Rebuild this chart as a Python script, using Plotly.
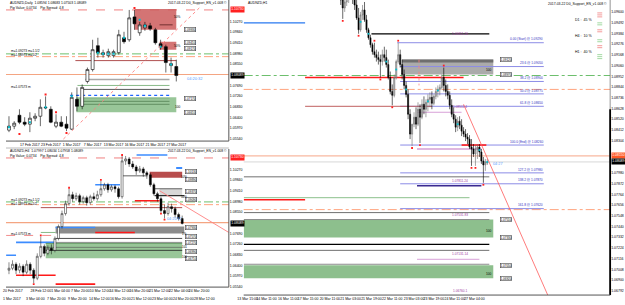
import plotly.graph_objects as go

W, H = 625, 305
FONT = "Liberation Sans"

# ====================== DATA ======================
# --- Daily chart (top-left) ---
d_open  = [1.0589,1.0605,1.0649,1.0621,1.0613,1.0637,1.0645,1.0681,1.0673,1.0605,1.0621,1.0613,1.0593,1.0713,1.0685,1.0785,1.0833,1.0929,1.0893,1.0889,1.0889,1.0901,1.0961,1.0953,1.1045,1.0981,1.1001,1.1009,1.0993,1.0937,1.0925,1.0849,1.0845]
d_high  = [1.0645,1.0625,1.0673,1.0641,1.0661,1.0657,1.0713,1.0725,1.0685,1.0653,1.0645,1.0645,1.0741,1.0761,1.0773,1.0841,1.0953,1.0961,1.0913,1.0917,1.0913,1.0993,1.0985,1.1073,1.1073,1.1025,1.1025,1.1021,1.1001,1.0953,1.0933,1.0881,1.0873]
d_low   = [1.0581,1.0593,1.0613,1.0605,1.0581,1.0625,1.0605,1.0673,1.0617,1.0597,1.0601,1.0585,1.0589,1.0665,1.0673,1.0777,1.0825,1.0881,1.0881,1.0881,1.0881,1.0893,1.0937,1.0945,1.0993,1.0969,1.0989,1.0989,1.0933,1.0913,1.0821,1.0821,1.0785]
d_close = [1.0605,1.0617,1.0621,1.0613,1.0637,1.0645,1.0681,1.0679,1.0621,1.0621,1.0605,1.0597,1.0721,1.0685,1.0761,1.0833,1.0913,1.0901,1.0901,1.0905,1.0905,1.0973,1.0945,1.1041,1.1017,1.1013,1.1013,1.0997,1.0941,1.0925,1.0861,1.0857,1.0809]
d_tick_idx = [0, 4, 8, 12, 16, 20, 24, 28, 32]
d_tick_txt = ["13 Feb 2017", "17 Feb 2017", "23 Feb 2017", "1 Mar 2017", "7 Mar 2017",
              "13 Mar 2017", "16 Mar 2017", "21 Mar 2017", "27 Mar 2017"]
d_cyan_idx = [0, 4, 7, 12, 17, 18, 19, 20, 22, 25, 26, 29, 31]
d_cyan_val = [1.0601, 1.0621, 1.0681, 1.0725, 1.0901, 1.0897, 1.0897, 1.0897, 1.0961, 1.1033, 1.1009, 1.0925, 1.0853]
d_frac_idx = [2, 7, 9, 11, 24]
d_frac_val = [1.0573, 1.0733, 1.0661, 1.0577, 1.1081]

# --- H4 chart (bottom-left) ---
h4_open  = [1.0621,1.0629,1.0645,1.0621,1.0637,1.0613,1.0645,1.0621,1.0589,1.0677,1.0717,1.0689,1.0709,1.0701,1.0749,1.0797,1.0849,1.0889,1.0925,1.0909,1.0921,1.0897,1.0913,1.0893,1.0917,1.0909,1.0925,1.0949,1.0965,1.0945,1.0957,1.0949,1.0917,1.1061,1.1069,1.1049,1.1037,1.1021,1.1029,1.1013,1.1005,1.0965,1.0929,1.0909,1.0861,1.0849,1.0877,1.0869,1.0845,1.0829]
h4_high  = [1.0653,1.0661,1.0653,1.0649,1.0645,1.0661,1.0653,1.0629,1.0689,1.0757,1.0725,1.0721,1.0725,1.0757,1.0805,1.0861,1.0901,1.0949,1.0937,1.0933,1.0929,1.0921,1.0921,1.0925,1.0933,1.0941,1.0981,1.0973,1.0973,1.0965,1.0965,1.0957,1.1081,1.1081,1.1077,1.1061,1.1045,1.1041,1.1037,1.1021,1.1013,1.0973,1.0937,1.0917,1.0885,1.0893,1.0889,1.0877,1.0853,1.0841]
h4_low   = [1.0605,1.0621,1.0605,1.0609,1.0597,1.0605,1.0605,1.0569,1.0581,1.0669,1.0677,1.0681,1.0685,1.0693,1.0741,1.0789,1.0841,1.0881,1.0897,1.0901,1.0885,1.0889,1.0881,1.0885,1.0901,1.0901,1.0917,1.0941,1.0933,1.0937,1.0933,1.0909,1.0909,1.1045,1.1037,1.1029,1.1005,1.1013,1.0997,1.0989,1.0957,1.0921,1.0897,1.0853,1.0829,1.0841,1.0853,1.0833,1.0821,1.0805]
h4_close = [1.0629,1.0645,1.0621,1.0637,1.0613,1.0645,1.0621,1.0589,1.0677,1.0717,1.0689,1.0709,1.0701,1.0749,1.0797,1.0849,1.0889,1.0925,1.0909,1.0921,1.0897,1.0913,1.0893,1.0917,1.0909,1.0925,1.0949,1.0965,1.0945,1.0957,1.0949,1.0917,1.1061,1.1069,1.1049,1.1037,1.1021,1.1029,1.1013,1.1005,1.0965,1.0929,1.0909,1.0861,1.0849,1.0877,1.0869,1.0845,1.0829,1.0809]
h4_tick_idx = [1.1, 9.0, 14.6, 20.2, 25.8, 31.4, 37.0, 42.6, 48.2, 53.8]
h4_tick_txt = ["20 Feb 2017", "28 Feb 12:00", "1 Mar 04:00", "7 Mar 20:00", "10 Mar 12:00",
               "14 Mar 12:00", "16 Mar 20:00", "21 Mar 12:00", "22 Mar 04:00", "24 Mar 20:00"]
h4_row2_txt = ["1 Mar 2017", "3 Mar 04:00", "7 Mar 20:00", "9 Mar 20:00", "14 Mar 12:00",
               "16 Mar 20:00", "21 Mar 12:00", "23 Mar 04:00", "24 Mar 20:00", "28 Mar 12:00"]
h4_frac_idx = [7, 9, 17, 26, 32, 43, 44]
h4_frac_val = [1.0565, 1.0761, 1.0953, 1.0985, 1.1085, 1.0849, 1.0825]

# --- H1 chart (right) ---
h1_open  = [1.0982,1.0972,1.0964,1.0970,1.0975,1.0978,1.0982,1.0974,1.0967,1.0954,1.0942,1.0957,1.0962,1.0952,1.0942,1.0934,1.0927,1.0920,1.0917,1.0914,1.0912,1.0910,1.0917,1.0914,1.0907,1.0894,1.0880,1.0876,1.0894,1.0910,1.0917,1.0907,1.0897,1.0886,1.0877,1.0857,1.0837,1.0847,1.0854,1.0847,1.0862,1.0854,1.0867,1.0862,1.0869,1.0872,1.0874,1.0868,1.0875,1.0880,1.0882,1.0884,1.0894,1.0886,1.0880,1.0876,1.0866,1.0857,1.0852,1.0844,1.0850,1.0846,1.0840,1.0837,1.0834,1.0832,1.0824,1.0822,1.0817,1.0822,1.0824,1.0819,1.0810,1.0806,1.0808]
h1_high  = [1.0992,1.0977,1.0975,1.0980,1.0984,1.0987,1.0990,1.0982,1.0977,1.0964,1.0960,1.0967,1.0970,1.0957,1.0944,1.0937,1.0929,1.0929,1.0922,1.0920,1.0917,1.0922,1.0925,1.0922,1.0912,1.0900,1.0887,1.0897,1.0912,1.0929,1.0922,1.0912,1.0902,1.0890,1.0882,1.0862,1.0847,1.0859,1.0864,1.0869,1.0867,1.0872,1.0875,1.0872,1.0877,1.0879,1.0880,1.0877,1.0884,1.0886,1.0887,1.0897,1.0904,1.0892,1.0887,1.0880,1.0872,1.0864,1.0856,1.0854,1.0855,1.0852,1.0844,1.0842,1.0838,1.0836,1.0832,1.0827,1.0826,1.0827,1.0827,1.0822,1.0814,1.0812,1.0812]
h1_low   = [1.0967,1.0953,1.0960,1.0966,1.0969,1.0972,1.0968,1.0962,1.0952,1.0938,1.0940,1.0952,1.0950,1.0939,1.0932,1.0924,1.0917,1.0914,1.0910,1.0907,1.0894,1.0906,1.0910,1.0904,1.0892,1.0877,1.0866,1.0874,1.0892,1.0908,1.0904,1.0892,1.0882,1.0874,1.0852,1.0832,1.0825,1.0844,1.0842,1.0845,1.0828,1.0852,1.0857,1.0854,1.0860,1.0864,1.0862,1.0866,1.0872,1.0874,1.0876,1.0882,1.0880,1.0875,1.0872,1.0862,1.0854,1.0848,1.0839,1.0840,1.0842,1.0835,1.0834,1.0830,1.0827,1.0822,1.0805,1.0814,1.0805,1.0812,1.0814,1.0807,1.0788,1.0800,1.0806]
h1_close = [1.0972,1.0964,1.0970,1.0975,1.0978,1.0982,1.0974,1.0967,1.0954,1.0942,1.0957,1.0962,1.0952,1.0942,1.0934,1.0927,1.0920,1.0917,1.0914,1.0912,1.0910,1.0917,1.0914,1.0907,1.0894,1.0880,1.0876,1.0894,1.0910,1.0917,1.0907,1.0897,1.0886,1.0877,1.0857,1.0837,1.0847,1.0854,1.0847,1.0862,1.0854,1.0867,1.0862,1.0869,1.0872,1.0874,1.0868,1.0875,1.0880,1.0882,1.0884,1.0894,1.0886,1.0880,1.0876,1.0866,1.0857,1.0852,1.0844,1.0850,1.0846,1.0840,1.0837,1.0834,1.0832,1.0824,1.0822,1.0817,1.0822,1.0824,1.0819,1.0810,1.0806,1.0809,1.0809]
h1_tick_idx = [-47, -37.5, -26.5, -16.5, -5.5, 5, 15.5, 26, 37, 47, 57.5, 67.5]
h1_tick_txt = ["13 Mar 15:00", "14 Mar 11:00", "16 Mar 11:00", "17 Mar 15:00", "20 Mar 11:00", "21 Mar 03:00",
               "21 Mar 19:00", "22 Mar 11:00", "23 Mar 03:00", "23 Mar 19:00", "24 Mar 11:00", "27 Mar 04:00"]
h1_frac_idx = [1, 9, 17, 20, 26, 29, 36, 40, 52, 66, 68, 72]
h1_frac_val = [1.0951, 1.0936, 1.0931, 1.0892, 1.0864, 1.0931, 1.0823, 1.0826, 1.0906, 1.0803, 1.0803, 1.0786]
h1_cyan_idx = [10, 14, 23, 28, 33, 44, 49, 59, 70, 74]
h1_cyan_val = [1.0950, 1.0938, 1.0910, 1.0902, 1.0882, 1.0870, 1.0881, 1.0847, 1.0821, 1.0809]

# price-scale tick labels
left_ticks = [1.10270, 1.09840, 1.09410, 1.08980, 1.08550, 1.07690, 1.07260, 1.06830, 1.06400, 1.05970, 1.05540]
right_ticks = [1.09600, 1.09492, 1.09384, 1.09276, 1.09168, 1.09060, 1.08952, 1.08844, 1.08736, 1.08628,
               1.08520, 1.08412, 1.08304, 1.07980, 1.07872, 1.07764, 1.07656, 1.07548, 1.07440, 1.07332,
               1.07224, 1.07116, 1.07008, 1.06900, 1.06792]

# key levels
lvl_top_red = 1.1073
lvl_green_dd = 1.0896
lvl_orange_dd = 1.0882
lvl_current = 1.0809
lvl_bid_line = 1.0813
fib_names = ["0.00 (Start)", "23.6", "38.2", "50.0", "61.8", "100.0 (End)", "127.2", "138.2", "161.8"]
fib_prices = [1.0929, 1.0905, 1.0890, 1.08775, 1.0865, 1.0826, 1.0798, 1.0787, 1.0762]

# ====================== FIGURE ======================
fig = go.Figure()
AX = {"D": ("x", "y"), "H4": ("x2", "y2"), "H1": ("x3", "y3")}


def candles(ax, o, h, l, c, inc_fill, inc_line, dec_fill, dec_line, lw):
    xr, yr = AX[ax]
    fig.add_trace(go.Candlestick(
        x=list(range(len(o))), open=o, high=h, low=l, close=c, xaxis=xr, yaxis=yr,
        increasing=dict(fillcolor=inc_fill, line=dict(color=inc_line, width=lw)),
        decreasing=dict(fillcolor=dec_fill, line=dict(color=dec_line, width=lw)),
        whiskerwidth=0, showlegend=False, hoverinfo="skip"))


def dots(ax, xs, ys, color, size=2.2):
    xr, yr = AX[ax]
    fig.add_trace(go.Scatter(x=xs, y=ys, xaxis=xr, yaxis=yr, mode="markers",
                             marker=dict(symbol="square", size=size, color=color, line=dict(width=0)),
                             showlegend=False, hoverinfo="skip"))


def hline(ax, x0, x1, y, color, width=1.0, dash="solid", full=False, layer="below"):
    xr, yr = AX[ax]
    if full:
        fig.add_shape(type="line", xref=xr + " domain", yref=yr, x0=0, x1=1, y0=y, y1=y,
                      line=dict(color=color, width=width, dash=dash), layer=layer)
    else:
        fig.add_shape(type="line", xref=xr, yref=yr, x0=x0, x1=x1, y0=y, y1=y,
                      line=dict(color=color, width=width, dash=dash), layer=layer)


def seg(ax, x0, y0, x1, y1, color, width=1.0, dash="solid"):
    xr, yr = AX[ax]
    fig.add_shape(type="line", xref=xr, yref=yr, x0=x0, x1=x1, y0=y0, y1=y1,
                  line=dict(color=color, width=width, dash=dash), layer="above")


def rect(ax, x0, x1, y0, y1, fill, opacity=1.0, lc=None, lw=0, layer="below"):
    xr, yr = AX[ax]
    fig.add_shape(type="rect", xref=xr, yref=yr, x0=x0, x1=x1, y0=y0, y1=y1,
                  fillcolor=fill, opacity=opacity,
                  line=dict(color=lc or fill, width=lw), layer=layer)


def dtxt(ax, x, y, s, color="#000", size=3.8, xanchor="center", yanchor="middle"):
    xr, yr = AX[ax]
    fig.add_annotation(x=x, y=y, xref=xr, yref=yr, text=s, showarrow=False,
                       font=dict(size=size, color=color, family=FONT),
                       xanchor=xanchor, yanchor=yanchor, borderpad=0)


def boxlbl(ax, x, y, s):
    xr, yr = AX[ax]
    fig.add_annotation(x=x, y=y, xref=xr, yref=yr, text=s, showarrow=False,
                       font=dict(size=3.0, color="#000", family=FONT), bgcolor="#ffffff",
                       bordercolor="#444444", borderwidth=0.6, borderpad=0)


def ptxt(xp, yp, s, color="#000", size=4.0, xanchor="left", yanchor="middle"):
    fig.add_annotation(x=xp / W, y=1 - yp / H, xref="paper", yref="paper", text=s, showarrow=False,
                       font=dict(size=size, color=color, family=FONT),
                       xanchor=xanchor, yanchor=yanchor, borderpad=0)


def axbox(ax, y, xp, s, bg):
    xr, yr = AX[ax]
    fig.add_annotation(x=xp / W, xref="paper", y=y, yref=yr, text=s, showarrow=False,
                       font=dict(size=3.4, color="#ffffff", family=FONT), bgcolor=bg,
                       xanchor="left", borderpad=0.3)


def pline(x0, y0, x1, y1, color, width=1.0):
    fig.add_shape(type="line", xref="paper", yref="paper", x0=x0 / W, x1=x1 / W,
                  y0=1 - y0 / H, y1=1 - y1 / H, line=dict(color=color, width=width), layer="above")


# ---------------- Daily panel overlays ----------------
D_END = 42.05
hline("D", 0, 0, lvl_top_red, "#f08080", 1.0, "dash", full=True)
rect("D", 24.05, 32.0, 1.0993, 1.1077, "#cd5c5c", 0.85)
hline("D", 28.8, 31.3, 1.1013, "#5a2020", 0.8)
rect("D", 28.8, 32.0, 1.0913, 1.0945, "#cd5c5c", 0.85)
hline("D", 0, 0, lvl_green_dd, "#5cb85c", 0.9, "dashdot", full=True)
hline("D", 0, 0, 1.0885, "#ff9a70", 0.9, "dashdot", full=True)
hline("D", 12.7, 32.0, 1.0869, "#b05050", 1.0)
hline("D", 0, 0, lvl_bid_line, "#f4a582", 1.2, full=True)
hline("D", 14.6, 30.7, 1.0793, "#a8a8a8", 1.6)
hline("D", 13.1, 30.7, 1.0769, "#6aa86a", 0.8)
hline("D", 14.0, 30.7, 1.0753, "#303030", 0.8)
hline("D", 11.7, 30.7, 1.0729, "#1e64ff", 1.2, "dot")
hline("D", 14.0, 30.7, 1.0717, "#505050", 0.8)
rect("D", 12.9, 32.0, 1.0661, 1.0721, "#8dc08d", 0.9)
hline("D", 14.0, 30.7, 1.0705, "#3c6a3c", 0.6)
hline("D", 14.0, 30.7, 1.0693, "#3c6a3c", 0.6)
candles("D", d_open, d_high, d_low, d_close, "#ffffff", "#000000", "#000000", "#000000", 0.6)
dots("D", d_cyan_idx, d_cyan_val, "#00c0d0", 2.0)
dots("D", d_frac_idx, d_frac_val, "#ff2020", 2.0)
seg("D", 10.4, 1.0553, 36.4, 1.1081, "#ff8080", 0.9, "dot")
for yv, s in [(1.0993, "1.09930"), (1.0941, "1.09410"), (1.0917, "1.09170"), (1.0717, "1.07170"), (1.0661, "1.06610")]:
    boxlbl("D", 34.7, yv, s)
dtxt("D", 32.3, 1.1043, "50%", size=3.2)
dtxt("D", 32.3, 1.0929, "50%", size=3.2)
dtxt("D", 32.3, 1.0681, "100", size=3.2)
dtxt("D", 35.6, 1.0797, "04:20:32", color="#5aa0ff", size=4.0)
dtxt("D", 0.2, 1.0909, "m=1.09273 m=1.1/2", size=3.2, xanchor="left")
dtxt("D", 0.2, 1.0893, "m=1.08973 m=1/2", size=3.2, xanchor="left")
dtxt("D", 0.2, 1.0761, "m=1.07573 m", size=3.2, xanchor="left")

# ---------------- H4 panel overlays ----------------
hline("H4", 0, 0, lvl_top_red, "#f08080", 1.0, "dash", full=True)
hline("H4", 36.1, 44.8, 1.1085, "#3c8cff", 1.6)
hline("H4", 24.4, 31.4, 1.0965, "#3c8cff", 1.6)
rect("H4", 47.3, 49.0, 1.1029, 1.1037, "#3c8cff", 1.0)
rect("H4", 39.8, 49.0, 1.0993, 1.1017, "#b03a3a", 0.9)
hline("H4", 31.9, 39.2, 1.1001, "#505050", 0.9)
rect("H4", 42.6, 49.0, 1.0921, 1.0949, "#d8d8d8", 1.0)
hline("H4", 41.2, 49.0, 1.0949, "#404040", 0.8)
hline("H4", 41.2, 49.6, 1.0921, "#000000", 1.0)
hline("H4", 0, 0, lvl_green_dd, "#5cb85c", 0.9, "dashdot", full=True)
hline("H4", 35.6, 42.6, 1.0901, "#ff1a1a", 1.6)
hline("H4", 0, 0, 1.0885, "#ff9a70", 0.9, "dashdot", full=True)
hline("H4", 9.0, 49.0, 1.0873, "#b05050", 1.0)
hline("H4", 0, 0, lvl_bid_line, "#f4a582", 1.2, full=True)
rect("H4", 13.2, 49.6, 1.0769, 1.0797, "#8c8c8c", 1.0)
hline("H4", 13.2, 24.4, 1.0793, "#3c8cff", 1.6)
hline("H4", 24.4, 35.6, 1.0773, "#ff1a1a", 1.6)
hline("H4", 9.0, 13.2, 1.0773, "#6aa86a", 0.8)
hline("H4", -0.8, 13.2, 1.0761, "#f08080", 0.9, "dash")
hline("H4", 13.2, 49.0, 1.0749, "#202020", 0.8)
hline("H4", 10.4, 49.0, 1.0733, "#808080", 0.9)
hline("H4", 2.0, 13.2, 1.0733, "#3c8cff", 1.6)
rect("H4", 10.4, 49.0, 1.0669, 1.0729, "#8dc08d", 0.9)
hline("H4", 10.4, 49.0, 1.0729, "#4c8a4c", 0.8)
hline("H4", 10.4, 49.0, 1.0713, "#505050", 0.6)
hline("H4", 10.4, 49.0, 1.0701, "#202020", 0.8)
hline("H4", 2.0, 13.2, 1.0601, "#ff1a1a", 1.6)
hline("H4", 13.2, 24.4, 1.0565, "#ff1a1a", 1.6)
hline("H4", -0.8, 2.0, 1.0681, "#3c8cff", 1.6)
candles("H4", h4_open, h4_high, h4_low, h4_close, "#ffffff", "#1a1a1a", "#000000", "#000000", 0.5)
dots("H4", h4_frac_idx, h4_frac_val, "#ff2020", 1.8)
seg("H4", 42.6, 1.0941, 62.2, 1.0773, "#ff8080", 0.9)
for yv, s in [(1.1019, "1.10130"), (1.0985, "1.09890"), (1.0939, "1.09370"), (1.0907, "1.09090"),
              (1.0793, "1.07930"), (1.0757, "1.07570"), (1.0731, "1.07270"), (1.0697, "1.06990"), (1.0667, "1.06710")]:
    boxlbl("H4", 51.4, yv, s)
dtxt("H4", 49.6, 1.0995, "50%", size=3.0)
dtxt("H4", 49.6, 1.0917, "50%", size=3.0)
dtxt("H4", 49.6, 1.0767, "1%", size=3.0)
dtxt("H4", 49.6, 1.0713, "101", size=3.0)
dtxt("H4", 49.6, 1.0675, "100", size=3.0)
dtxt("H4", 44.5, 1.0817, "04:20:32", color="#5aa0ff", size=3.8, xanchor="left", yanchor="bottom")
dtxt("H4", 0.3, 1.0905, "m=1.09273 m=1.1/2", size=3.2, xanchor="left")
dtxt("H4", 0.3, 1.0889, "m=1.08973 m=1/2", size=3.2, xanchor="left")
dtxt("H4", 0.3, 1.0765, "m=1.07573 m", size=3.2, xanchor="left")

# ---------------- H1 panel overlays ----------------
hline("H1", -49, -18, 1.0949, "#2878f0", 1.2)
hline("H1", 15.5, 75, 1.0938, "#000000", 1.2)
rect("H1", 31, 77, 1.0897, 1.0912, "#a6a6a6", 0.95)
rect("H1", 31, 77, 1.0909, 1.0912, "#6e6e6e", 1.0)
for i, (nm, pv) in enumerate(zip(fib_names, fib_prices)):
    x0 = 28.5 if i == 0 else 30
    hline("H1", x0, 102.5, pv, "#8c8ce6", 1.0)
    dtxt("H1", 102.5, pv + 0.00003, nm + " @ " + f"{pv:.5f}", color="#3030c0", size=3.2, xanchor="right", yanchor="bottom")
hline("H1", 0, 0, lvl_green_dd, "#5cb85c", 0.9, "dashdot", full=True)
hline("H1", -18, 62, 1.0894, "#ff1a1a", 1.4)
hline("H1", 0, 0, lvl_orange_dd, "#ff9a70", 0.9, "dashdot", full=True)
hline("H1", -18, 46, 1.0865, "#c06060", 1.0)
hline("H1", 38.5, 61, 1.0859, "#d8a0d8", 1.0)
hline("H1", 61, 73.5, 1.0826, "#ff1a1a", 1.6)
hline("H1", 38.5, 71, 1.0822, "#c070c0", 1.2)
hline("H1", 0, 0, 1.0815, "#f8b8a0", 1.2, full=True)
hline("H1", 0, 0, lvl_current, "#d8d8d8", 1.0, full=True)
hline("H1", -49, 75, 1.0794, "#707070", 1.0)
hline("H1", 38.5, 71, 1.0785, "#3a2a90", 1.4)
hline("H1", -49, 65, 1.0773, "#8cc08c", 1.0)
hline("H1", -49, -18, 1.0771, "#ff1a1a", 1.4)
hline("H1", 0, 0, 1.0761, "#ff9a70", 0.9, "dashdot", full=True)
hline("H1", -49, 75, 1.0758, "#707070", 1.0)
rect("H1", -49, 77, 1.0733, 1.0751, "#8dbf8d", 1.0)
hline("H1", -49, 75, 1.0751, "#8a8a8a", 1.0)
hline("H1", -49, 75, 1.0726, "#000000", 1.1)
hline("H1", -49, 75, 1.0720, "#707070", 1.0)
hline("H1", 38.5, 70, 1.0711, "#d8a0d8", 1.0)
hline("H1", -49, 75, 1.0706, "#8a8a8a", 1.0)
rect("H1", -49, 77, 1.0692, 1.0705, "#8dbf8d", 1.0)
seg("H1", 39.5, 1.0912, 39.5, 1.0886, "#ff8080", 0.8, "dot")
candles("H1", h1_open, h1_high, h1_low, h1_close, "#c4c4c4", "#6a6a6a", "#000000", "#000000", 0.6)
dots("H1", h1_frac_idx, h1_frac_val, "#ff2020", 1.8)
dots("H1", h1_cyan_idx, h1_cyan_val, "#00c0d0", 1.8)
seg("H1", 62, 1.0867, 104.5, 1.0675, "#ff5a5a", 0.8)
for yv, s in [(1.0912, "1.09120"), (1.0897, "1.08970"), (1.0751, "1.07510"), (1.0733, "1.07330"),
              (1.0705, "1.07050"), (1.0692, "1.06920")]:
    boxlbl("H1", 83.5, yv, s)
dtxt("H1", 75, 1.0902, "100", size=3.2)
dtxt("H1", 75, 1.0739, "100", size=3.2)
dtxt("H1", 75, 1.0696, "100", size=3.2)
for yv, s in [(1.0935, "1.09351.26"), (1.0861, "1.08511.4"), (1.0787, "1.07811.24"),
              (1.0753, "1.07531.83"), (1.0713, "1.07131.14"), (1.0676, "1.06760.1")]:
    dtxt("H1", 60, yv, s, color="#a040a0", size=3.2, yanchor="bottom")
dtxt("H1", 76.5, 1.0807, "04:27", color="#5aa0ff", size=3.8, xanchor="left")

# ---------------- panel frames / texts ----------------
H4_BOTTOM = 289
pline(225, 0, 225, 142, "#555555", 1.0)
pline(0, 142, 225, 142, "#555555", 1.0)
pline(225, 150, 225, H4_BOTTOM, "#555555", 1.0)
pline(0, H4_BOTTOM, 225, H4_BOTTOM, "#555555", 1.0)
pline(0, 149, 225, 149, "#888888", 0.6)
pline(610, 0, 610, 297, "#777777", 0.8)
pline(610, 110, 610, 297, "#000000", 1.8)
pline(240, 297, 610, 297, "#555555", 1.0)

ptxt(3, 3, "AUDNZD,Daily  1.08594 1.08683 1.07503 1.08089", size=3.4)
ptxt(3, 8.5, "Pip Value: 0.0734    Pip Spread: 4.8", size=3.4)
ptxt(224, 3, "2017-03-22 D0_Support_EN_v1.008 \u00a9", size=3.4, xanchor="right")
ptxt(3, 152, "AUDNZD,H4  1.07997 1.08034 1.07958 1.08089", size=3.4)
ptxt(3, 157.5, "Pip Value: 0.0734    Pip Spread: 4.8", size=3.4)
ptxt(224, 152, "2017-03-22 D0_Support_EN_v1.008 \u00a9", size=3.4, xanchor="right")
ptxt(243, 3, "AUDNZD,H1", size=3.4)
ptxt(608, 4, "2017-03-22 D0_Support_EN_v1.008 \u00a9", size=3.4, xanchor="right")
for yp, s in [(20, "D1 :  45 %"), (36, "H4 :  10 %"), (52, "H1 :  40 %")]:
    ptxt(594, yp, s, size=3.6, xanchor="right")
for yp, c in [(13, "#f08080"), (15, "#f08080"), (17, "#f08080"), (23, "#8cd08c"), (25, "#8cd08c"),
              (30, "#f08080"), (32, "#f08080"), (40, "#8cd08c"), (42, "#8cd08c"),
              (46, "#f08080"), (48, "#f08080"), (55, "#8cd08c"), (57, "#8cd08c"), (59, "#8cd08c")]:
    pline(597, yp, 602, yp, c, 0.8)
# second row of time labels under the H4 window (window behind)
for xp, s in zip([6, 30, 51, 72, 94, 116, 137, 158, 179, 200], h4_row2_txt):
    ptxt(xp, 300.5, s, size=3.5, xanchor="center")

# price boxes on the scales
axbox("D", lvl_top_red, 226, "1.10730", "#ff2020")
axbox("D", lvl_current, 226, "1.08089", "#000000")
axbox("H4", lvl_top_red, 226, "1.10730", "#ff2020")
axbox("H4", lvl_current, 226, "1.08089", "#000000")
axbox("H1", 1.0815, 611, "1.08150", "#ff5a28")
axbox("H1", lvl_current, 611, "1.08089", "#000000")

# ---------------- axes ----------------
tick_font = dict(size=3.5, color="#000", family=FONT)
xcommon = dict(showgrid=False, zeroline=False, showline=False, ticks="", tickfont=tick_font,
               tickangle=0, rangeslider=dict(visible=False), fixedrange=True)
ycommon = dict(showgrid=False, zeroline=False, showline=False, ticks="", tickfont=tick_font,
               side="right", fixedrange=True)

fig.update_layout(
    width=W, height=H, margin=dict(l=0, r=0, t=0, b=0),
    paper_bgcolor="#ffffff", plot_bgcolor="#ffffff", showlegend=False,
    font=dict(family=FONT, size=4, color="#000"), boxgap=0.2,
    xaxis=dict(domain=[0, 225 / W], range=[-0.57, D_END], anchor="y",
               tickvals=d_tick_idx, ticktext=d_tick_txt, **xcommon),
    yaxis=dict(domain=[1 - 142 / H, 1], range=[1.1113 - 0.0004 * 142, 1.1113], anchor="x",
               tickvals=left_ticks, ticktext=[f"{v:.5f}" for v in left_ticks], **ycommon),
    xaxis2=dict(domain=[0, 225 / W], range=[-0.84, 62.2], anchor="y2",
                tickvals=h4_tick_idx, ticktext=h4_tick_txt, **xcommon),
    yaxis2=dict(domain=[1 - H4_BOTTOM / H, 1 - 150 / H],
                range=[1.1709 - 0.0004 * H4_BOTTOM, 1.1709 - 0.0004 * 150],
                anchor="x2", tickvals=left_ticks, ticktext=[f"{v:.5f}" for v in left_ticks], **ycommon),
    xaxis3=dict(domain=[240 / W, 610 / W], range=[-49, 136], anchor="y3",
                tickvals=h1_tick_idx, ticktext=h1_tick_txt, **xcommon),
    yaxis3=dict(domain=[1 - 297 / H, 1], range=[1.0972 - 0.0297, 1.0972], anchor="x3",
                tickvals=right_ticks, ticktext=[f"{v:.5f}" for v in right_ticks], **ycommon),
)

fig.write_html("out.html")
